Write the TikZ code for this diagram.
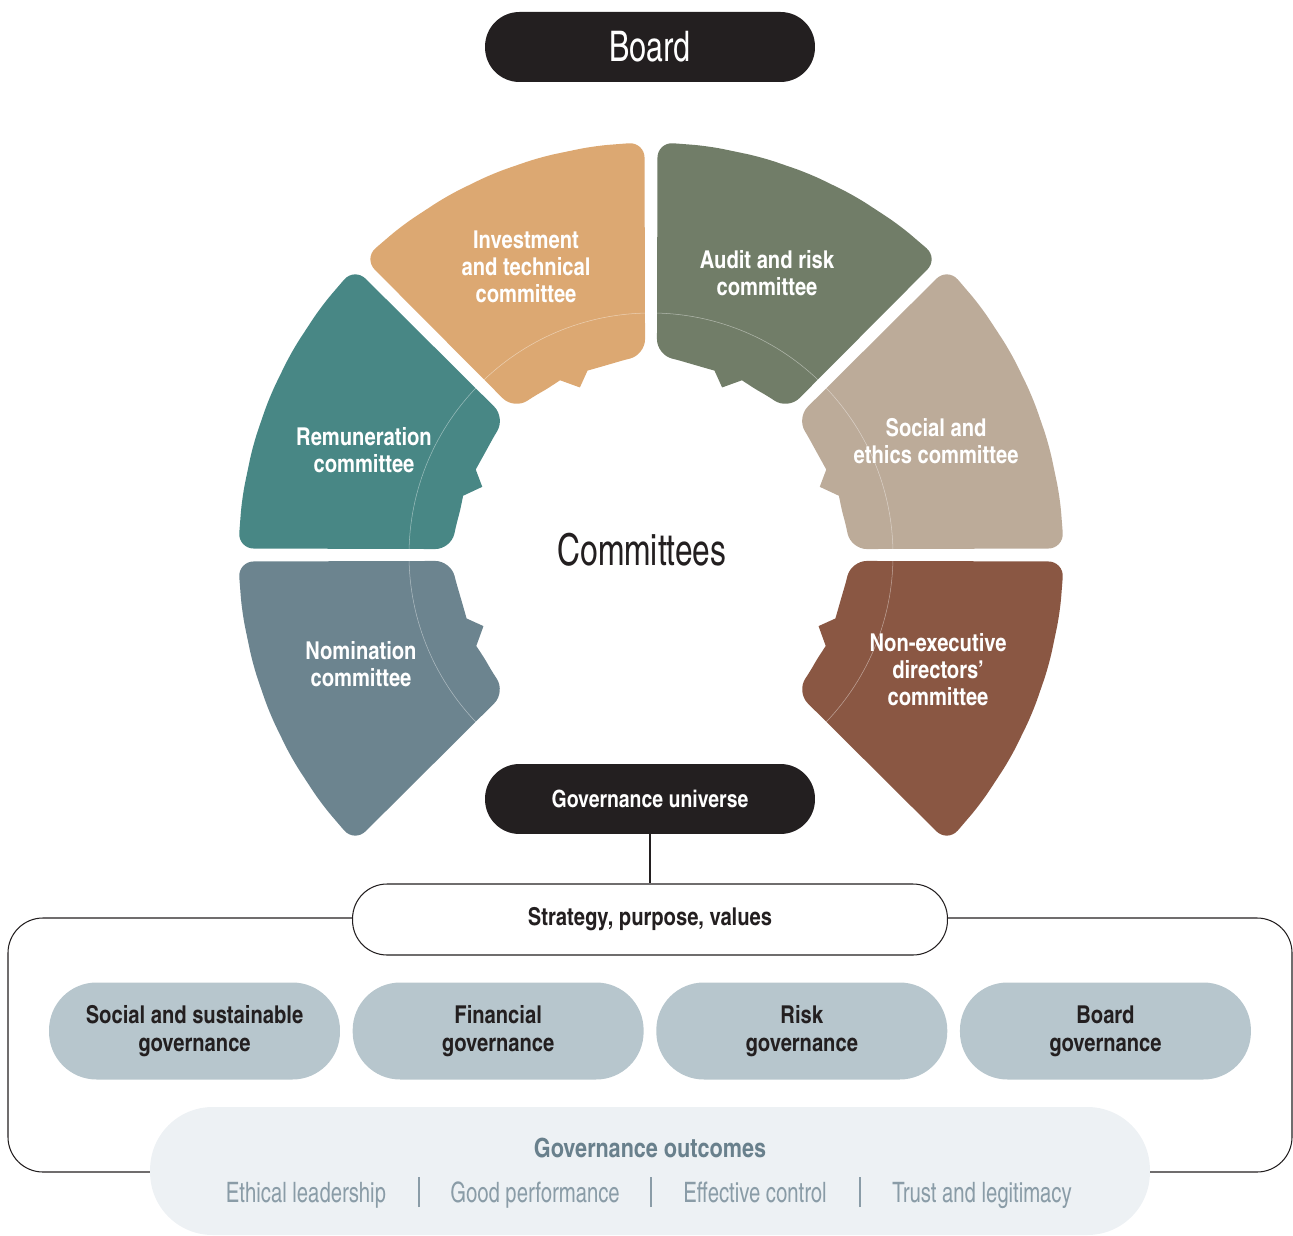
\documentclass[tikz,border=0pt]{standalone}
\usepackage{fontspec}
\setmainfont{texgyreheroscn}[Extension=.otf, UprightFont=*-regular, BoldFont=*-bold, ItalicFont=*-italic, BoldItalicFont=*-bolditalic,
    UprightFeatures={FakeStretch=0.88}]
\usepackage{tikz}
\usetikzlibrary{positioning}
\definecolor{inkBlack}{RGB}{35,31,32}
\definecolor{investTan}{RGB}{220,168,114}
\definecolor{auditGreen}{RGB}{113,125,104}
\definecolor{socialBeige}{RGB}{188,171,153}
\definecolor{nedBrown}{RGB}{138,87,67}
\definecolor{nominationSlate}{RGB}{108,132,143}
\definecolor{remunerationTeal}{RGB}{72,135,133}
\definecolor{govBlue}{RGB}{183,198,205}
\definecolor{outcomeMist}{RGB}{237,241,244}
\definecolor{outcomeTitle}{RGB}{105,128,140}
\definecolor{outcomeText}{RGB}{138,156,167}

\begin{document}
\begin{tikzpicture}[
            x=0.02cm, y=0.02cm,
            pill/.style={rectangle, rounded corners=0.69cm, fill=inkBlack, text=white, minimum width=6.6cm, minimum height=1.4cm, inner sep=0pt, align=center},
            seglabel/.style={text=white, align=center, font=\fontsize{14}{15.4}\selectfont\bfseries},
            govpill/.style={rectangle, rounded corners=0.95cm, fill=govBlue, text=inkBlack, minimum width=5.82cm, minimum height=1.94cm, inner sep=0pt, align=center, font=\fontsize{14}{15.9}\selectfont\bfseries},
            outcome/.style={text=outcomeText, anchor=base, font=\fontsize{16}{18}\selectfont},
            divider/.style={outcomeText, line width=1.1pt}
        ]
            \useasboundingbox (0,0) rectangle (1293,1235);
            \clip (0,0) rectangle (1293,1235);
            \coordinate (ring) at (651,680);

            % six committee segments, faces looking inwards
            \begin{scope}[shift={(ring)}]
                \foreach \base/\dir/\col in {90/1/investTan, 135/1/remunerationTeal, 180/1/nominationSlate,
                                             90/-1/auditGreen, 45/-1/socialBeige, 0/-1/nedBrown} {
                    \fill[\col, rounded corners=9pt]
                        ({\base+\dir*0.9}:413) -- ({\base+\dir*8}:413) -- ({\base+\dir*15.5}:413)
                        -- ({\base+\dir*22.5}:413) -- ({\base+\dir*29.5}:413) -- ({\base+\dir*37}:413)
                        -- ({\base+\dir*44.1}:413) -- ({\base+\dir*43.3}:200)
                        [rounded corners=3pt] -- ({\base+\dir*36}:197) -- ({\base+\dir*32}:196)
                        [sharp corners] -- ({\base+\dir*27.5}:197) -- ({\base+\dir*23}:182) -- ({\base+\dir*19}:195)
                        [rounded corners=3pt] -- ({\base+\dir*13}:195) -- ({\base+\dir*7.5}:197)
                        [rounded corners=9pt] -- ({\base+\dir*1.7}:200) -- cycle;
                }
                \draw[white, opacity=0.45, line width=0.3pt] (0,0) circle (242);
            \end{scope}

            \node[seglabel] (invest) at (526,968) {Investment\\and technical\\committee};
            \node[seglabel] (audit) at (767,962) {Audit and risk\\committee};
            \node[seglabel] (remun) at (364,785) {Remuneration\\committee};
            \node[seglabel] (social) at (936,794) {Social and\\ethics committee};
            \node[seglabel] (nomin) at (361,571) {Nomination\\committee};
            \node[seglabel] (ned) at (938,565) {Non-executive\\directors’\\committee};
            \node[text=inkBlack, font=\fontsize{25}{28}\selectfont] (committees) at (642,685) {Committees};

            \node[pill, font=\fontsize{24}{28}\selectfont] (board) at (650,1188) {Board};
            \node[pill, font=\fontsize{13.5}{15}\selectfont\bfseries] (universe) at (650,436) {Governance universe};

            % frame round the governance areas
            \draw[inkBlack, line width=0.6pt, rounded corners=0.7cm] (8,63) rectangle (1292,317);
            \node[pill, fill=white, draw=inkBlack, line width=0.6pt, text=inkBlack, minimum width=11.9cm, minimum height=1.42cm,
                  font=\fontsize{14}{15}\selectfont\bfseries] (strategy) at (650,315.5) {Strategy, purpose, values};
            \draw[inkBlack, line width=0.6pt] (universe) -- (strategy);

            \node[govpill] (social gov) at (194.5,204) {Social and sustainable\\governance};
            \node[govpill, right=0.24cm of social gov] (financial gov) {Financial\\governance};
            \node[govpill, right=0.24cm of financial gov] (risk gov) {Risk\\governance};
            \node[govpill, right=0.24cm of risk gov] (board gov) {Board\\governance};

            % outcomes band
            \node[rectangle, rounded corners=1.25cm, fill=outcomeMist, minimum width=20cm, minimum height=2.56cm] (outcomes) at (650,64) {};
            \node[text=outcomeTitle, font=\fontsize{15}{17}\selectfont\bfseries] (outcome title) at (650,87) {Governance outcomes};
            \node[outcome] (ethical) at (306,33) {Ethical leadership};
            \node[outcome] (performance) at (535,33) {Good performance};
            \node[outcome] (control) at (755,33) {Effective control};
            \node[outcome] (trust) at (982,33) {Trust and legitimacy};
            \foreach \x in {419,651,860} {
                \draw[divider] (\x,28) -- (\x,58);
            }
        \end{tikzpicture}
\end{document}
